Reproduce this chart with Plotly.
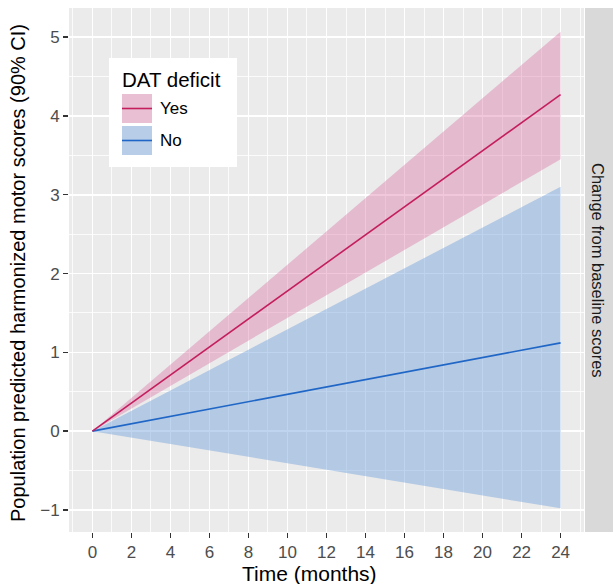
import plotly.graph_objects as go

# ---- data ----
time_months = [0, 24]
yes_mean = [0, 4.27]
yes_lo = [0, 3.45]
yes_hi = [0, 5.07]
no_mean = [0, 1.12]
no_lo = [0, -0.98]
no_hi = [0, 3.10]

x_ticks = list(range(0, 25, 2))
y_ticks = [-1, 0, 1, 2, 3, 4, 5]

FONT = "Liberation Sans, Arial, sans-serif"
PINK_LINE = "#C41E5E"
BLUE_LINE = "#1F66C6"
PINK_FILL = "rgba(214,100,156,0.36)"
BLUE_FILL = "rgba(110,160,220,0.45)"

fig = go.Figure()

def band(lo, hi, color):
    return go.Scatter(
        x=time_months + time_months[::-1],
        y=hi + lo[::-1],
        fill="toself", fillcolor=color, mode="none",
        hoverinfo="skip", showlegend=False)

fig.add_trace(band(no_lo, no_hi, BLUE_FILL))
fig.add_trace(band(yes_lo, yes_hi, PINK_FILL))
fig.add_trace(go.Scatter(x=time_months, y=no_mean, mode="lines",
                         line=dict(color=BLUE_LINE, width=1.6), showlegend=False))
fig.add_trace(go.Scatter(x=time_months, y=yes_mean, mode="lines",
                         line=dict(color=PINK_LINE, width=1.6), showlegend=False))

# ---- layout geometry (pixels) ----
W, H = 613, 584
L, R, T, B = 69, 29, 8, 52
pw, ph = W - L - R, H - T - B

def px(x):
    return (x - L) / pw

def py(y):
    return (H - B - y) / ph

shapes = []
annotations = []

# facet strip on the right
shapes.append(dict(type="rect", xref="paper", yref="paper",
                   x0=px(585), x1=px(W + 5), y0=0, y1=1,
                   fillcolor="#D9D9D9", line=dict(width=0), layer="below"))
annotations.append(dict(text="Change from baseline scores", xref="paper", yref="paper",
                        x=px(598), y=0.5, showarrow=False, textangle=90,
                        xanchor="center", yanchor="middle",
                        font=dict(family=FONT, size=16.5, color="#1A1A1A")))

# axis titles
annotations.append(dict(text="Time (months)", xref="paper", yref="paper",
                        x=px(309), y=py(573), showarrow=False,
                        xanchor="center", yanchor="middle",
                        font=dict(family=FONT, size=21, color="black")))
annotations.append(dict(text="Population predicted harmonized motor scores (90% CI)",
                        xref="paper", yref="paper",
                        x=px(18), y=py(273), showarrow=False, textangle=-90,
                        xanchor="center", yanchor="middle",
                        font=dict(family=FONT, size=20, color="black")))

# manual legend
shapes.append(dict(type="rect", xref="paper", yref="paper",
                   x0=px(109), x1=px(237), y0=py(167), y1=py(58),
                   fillcolor="white", line=dict(width=0)))
annotations.append(dict(text="DAT deficit", xref="paper", yref="paper",
                        x=px(120), y=py(79), xanchor="left", yanchor="middle",
                        showarrow=False, font=dict(family=FONT, size=20.5, color="black")))
keys = [("Yes", PINK_FILL, PINK_LINE, 94, 123), ("No", BLUE_FILL, BLUE_LINE, 126, 155)]
for label, fillc, linec, y0, y1 in keys:
    shapes.append(dict(type="rect", xref="paper", yref="paper",
                       x0=px(122), x1=px(152), y0=py(y1), y1=py(y0),
                       fillcolor="#F2F2F2", line=dict(width=0)))
    shapes.append(dict(type="rect", xref="paper", yref="paper",
                       x0=px(122), x1=px(152), y0=py(y1), y1=py(y0),
                       fillcolor=fillc, line=dict(width=0)))
    ym = (y0 + y1) / 2
    shapes.append(dict(type="line", xref="paper", yref="paper",
                       x0=px(122), x1=px(152), y0=py(ym), y1=py(ym),
                       line=dict(color=linec, width=1.6)))
    annotations.append(dict(text=label, xref="paper", yref="paper",
                            x=px(158), y=py(ym), xanchor="left", yanchor="middle",
                            showarrow=False, font=dict(family=FONT, size=17, color="black")))

fig.update_layout(
    width=W, height=H,
    margin=dict(l=L, r=R, t=T, b=B, pad=0),
    paper_bgcolor="white", plot_bgcolor="#EBEBEB",
    font=dict(family=FONT),
    showlegend=False,
    shapes=shapes, annotations=annotations,
)

fig.update_xaxes(
    range=[-1.2, 25.2], tickmode="array", tickvals=x_ticks,
    ticktext=[str(v) for v in x_ticks],
    showgrid=True, gridcolor="white", gridwidth=1.6,
    minor=dict(tick0=-1, dtick=2, showgrid=True, gridcolor="white", gridwidth=0.8, ticks=""),
    ticks="outside", ticklen=5, tickwidth=1.4, tickcolor="#333333",
    tickfont=dict(family=FONT, size=17, color="#4D4D4D"),
    automargin=False, zeroline=False, showline=False,
)
fig.update_yaxes(
    range=[-1.28, 5.37], tickmode="array", tickvals=y_ticks,
    ticktext=[str(v) if v >= 0 else "\u2212" + str(-v) for v in y_ticks],
    showgrid=True, gridcolor="white", gridwidth=1.6,
    minor=dict(tick0=-0.5, dtick=1, showgrid=True, gridcolor="white", gridwidth=0.8, ticks=""),
    ticks="outside", ticklen=5, tickwidth=1.4, tickcolor="#333333",
    tickfont=dict(family=FONT, size=17, color="#4D4D4D"),
    automargin=False, zeroline=False, showline=False,
)

fig.write_html(
    "out.html",
    config={"displayModeBar": False, "staticPlot": True},
    post_script="document.body.style.margin='0';document.body.style.padding='0';"
                "document.body.style.overflow='hidden';",
)
